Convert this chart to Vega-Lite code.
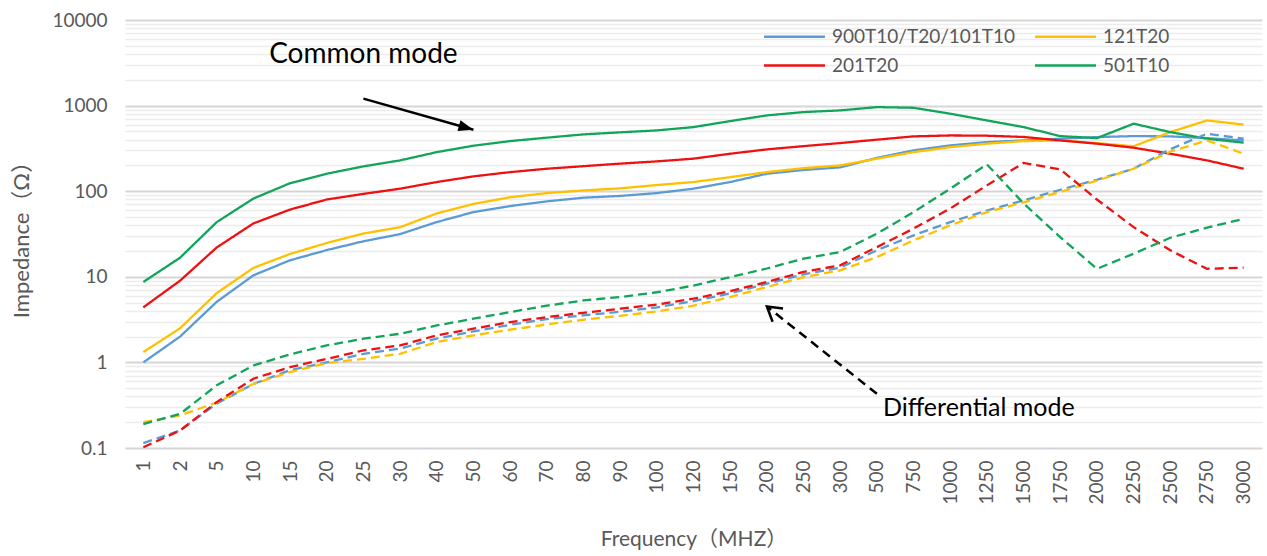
{
  "$schema": "https://vega.github.io/schema/vega-lite/v6.json",
  "autosize": "none",
  "width": 1137,
  "height": 428,
  "padding": {"left": 125, "top": 20, "right": 5, "bottom": 108},
  "background": "white",
  "config": {"view": {"stroke": null}, "font": "Lato, 'Noto Sans CJK SC'"},
  "datasets": {
    "imp": [
      {"freq":1,"series":"900T10/T20/101T10","mode":"Common mode","z":1.0},
      {"freq":2,"series":"900T10/T20/101T10","mode":"Common mode","z":2.0},
      {"freq":5,"series":"900T10/T20/101T10","mode":"Common mode","z":5.1},
      {"freq":10,"series":"900T10/T20/101T10","mode":"Common mode","z":10.4},
      {"freq":15,"series":"900T10/T20/101T10","mode":"Common mode","z":15.6},
      {"freq":20,"series":"900T10/T20/101T10","mode":"Common mode","z":20.5},
      {"freq":25,"series":"900T10/T20/101T10","mode":"Common mode","z":26},
      {"freq":30,"series":"900T10/T20/101T10","mode":"Common mode","z":31.5},
      {"freq":40,"series":"900T10/T20/101T10","mode":"Common mode","z":43.6},
      {"freq":50,"series":"900T10/T20/101T10","mode":"Common mode","z":57},
      {"freq":60,"series":"900T10/T20/101T10","mode":"Common mode","z":67},
      {"freq":70,"series":"900T10/T20/101T10","mode":"Common mode","z":76},
      {"freq":80,"series":"900T10/T20/101T10","mode":"Common mode","z":84},
      {"freq":90,"series":"900T10/T20/101T10","mode":"Common mode","z":88},
      {"freq":100,"series":"900T10/T20/101T10","mode":"Common mode","z":95},
      {"freq":120,"series":"900T10/T20/101T10","mode":"Common mode","z":107},
      {"freq":150,"series":"900T10/T20/101T10","mode":"Common mode","z":128},
      {"freq":200,"series":"900T10/T20/101T10","mode":"Common mode","z":160},
      {"freq":250,"series":"900T10/T20/101T10","mode":"Common mode","z":177},
      {"freq":300,"series":"900T10/T20/101T10","mode":"Common mode","z":190},
      {"freq":500,"series":"900T10/T20/101T10","mode":"Common mode","z":245},
      {"freq":750,"series":"900T10/T20/101T10","mode":"Common mode","z":300},
      {"freq":1000,"series":"900T10/T20/101T10","mode":"Common mode","z":343},
      {"freq":1250,"series":"900T10/T20/101T10","mode":"Common mode","z":375},
      {"freq":1500,"series":"900T10/T20/101T10","mode":"Common mode","z":392},
      {"freq":1750,"series":"900T10/T20/101T10","mode":"Common mode","z":410},
      {"freq":2000,"series":"900T10/T20/101T10","mode":"Common mode","z":429},
      {"freq":2250,"series":"900T10/T20/101T10","mode":"Common mode","z":440},
      {"freq":2500,"series":"900T10/T20/101T10","mode":"Common mode","z":437},
      {"freq":2750,"series":"900T10/T20/101T10","mode":"Common mode","z":417},
      {"freq":3000,"series":"900T10/T20/101T10","mode":"Common mode","z":392},

      {"freq":1,"series":"121T20","mode":"Common mode","z":1.32},
      {"freq":2,"series":"121T20","mode":"Common mode","z":2.5},
      {"freq":5,"series":"121T20","mode":"Common mode","z":6.45},
      {"freq":10,"series":"121T20","mode":"Common mode","z":12.7},
      {"freq":15,"series":"121T20","mode":"Common mode","z":18.5},
      {"freq":20,"series":"121T20","mode":"Common mode","z":24.8},
      {"freq":25,"series":"121T20","mode":"Common mode","z":32},
      {"freq":30,"series":"121T20","mode":"Common mode","z":38},
      {"freq":40,"series":"121T20","mode":"Common mode","z":55},
      {"freq":50,"series":"121T20","mode":"Common mode","z":71},
      {"freq":60,"series":"121T20","mode":"Common mode","z":85},
      {"freq":70,"series":"121T20","mode":"Common mode","z":95},
      {"freq":80,"series":"121T20","mode":"Common mode","z":102},
      {"freq":90,"series":"121T20","mode":"Common mode","z":108},
      {"freq":100,"series":"121T20","mode":"Common mode","z":118},
      {"freq":120,"series":"121T20","mode":"Common mode","z":128},
      {"freq":150,"series":"121T20","mode":"Common mode","z":146},
      {"freq":200,"series":"121T20","mode":"Common mode","z":167},
      {"freq":250,"series":"121T20","mode":"Common mode","z":186},
      {"freq":300,"series":"121T20","mode":"Common mode","z":200},
      {"freq":500,"series":"121T20","mode":"Common mode","z":240},
      {"freq":750,"series":"121T20","mode":"Common mode","z":286},
      {"freq":1000,"series":"121T20","mode":"Common mode","z":327},
      {"freq":1250,"series":"121T20","mode":"Common mode","z":359},
      {"freq":1500,"series":"121T20","mode":"Common mode","z":385},
      {"freq":1750,"series":"121T20","mode":"Common mode","z":392},
      {"freq":2000,"series":"121T20","mode":"Common mode","z":365},
      {"freq":2250,"series":"121T20","mode":"Common mode","z":335},
      {"freq":2500,"series":"121T20","mode":"Common mode","z":490},
      {"freq":2750,"series":"121T20","mode":"Common mode","z":671},
      {"freq":3000,"series":"121T20","mode":"Common mode","z":600},

      {"freq":1,"series":"201T20","mode":"Common mode","z":4.4},
      {"freq":2,"series":"201T20","mode":"Common mode","z":9.0},
      {"freq":5,"series":"201T20","mode":"Common mode","z":22},
      {"freq":10,"series":"201T20","mode":"Common mode","z":42},
      {"freq":15,"series":"201T20","mode":"Common mode","z":61},
      {"freq":20,"series":"201T20","mode":"Common mode","z":80},
      {"freq":25,"series":"201T20","mode":"Common mode","z":93},
      {"freq":30,"series":"201T20","mode":"Common mode","z":107},
      {"freq":40,"series":"201T20","mode":"Common mode","z":128},
      {"freq":50,"series":"201T20","mode":"Common mode","z":149},
      {"freq":60,"series":"201T20","mode":"Common mode","z":167},
      {"freq":70,"series":"201T20","mode":"Common mode","z":183},
      {"freq":80,"series":"201T20","mode":"Common mode","z":196},
      {"freq":90,"series":"201T20","mode":"Common mode","z":210},
      {"freq":100,"series":"201T20","mode":"Common mode","z":223},
      {"freq":120,"series":"201T20","mode":"Common mode","z":240},
      {"freq":150,"series":"201T20","mode":"Common mode","z":274},
      {"freq":200,"series":"201T20","mode":"Common mode","z":308},
      {"freq":250,"series":"201T20","mode":"Common mode","z":336},
      {"freq":300,"series":"201T20","mode":"Common mode","z":365},
      {"freq":500,"series":"201T20","mode":"Common mode","z":400},
      {"freq":750,"series":"201T20","mode":"Common mode","z":437},
      {"freq":1000,"series":"201T20","mode":"Common mode","z":448},
      {"freq":1250,"series":"201T20","mode":"Common mode","z":445},
      {"freq":1500,"series":"201T20","mode":"Common mode","z":430},
      {"freq":1750,"series":"201T20","mode":"Common mode","z":392},
      {"freq":2000,"series":"201T20","mode":"Common mode","z":359},
      {"freq":2250,"series":"201T20","mode":"Common mode","z":322},
      {"freq":2500,"series":"201T20","mode":"Common mode","z":274},
      {"freq":2750,"series":"201T20","mode":"Common mode","z":229},
      {"freq":3000,"series":"201T20","mode":"Common mode","z":183},

      {"freq":1,"series":"501T10","mode":"Common mode","z":8.7},
      {"freq":2,"series":"501T10","mode":"Common mode","z":16.7},
      {"freq":5,"series":"501T10","mode":"Common mode","z":43.5},
      {"freq":10,"series":"501T10","mode":"Common mode","z":82},
      {"freq":15,"series":"501T10","mode":"Common mode","z":124},
      {"freq":20,"series":"501T10","mode":"Common mode","z":160},
      {"freq":25,"series":"501T10","mode":"Common mode","z":195},
      {"freq":30,"series":"501T10","mode":"Common mode","z":229},
      {"freq":40,"series":"501T10","mode":"Common mode","z":286},
      {"freq":50,"series":"501T10","mode":"Common mode","z":340},
      {"freq":60,"series":"501T10","mode":"Common mode","z":385},
      {"freq":70,"series":"501T10","mode":"Common mode","z":422},
      {"freq":80,"series":"501T10","mode":"Common mode","z":461},
      {"freq":90,"series":"501T10","mode":"Common mode","z":487},
      {"freq":100,"series":"501T10","mode":"Common mode","z":513},
      {"freq":120,"series":"501T10","mode":"Common mode","z":561},
      {"freq":150,"series":"501T10","mode":"Common mode","z":659},
      {"freq":200,"series":"501T10","mode":"Common mode","z":768},
      {"freq":250,"series":"501T10","mode":"Common mode","z":840},
      {"freq":300,"series":"501T10","mode":"Common mode","z":879},
      {"freq":500,"series":"501T10","mode":"Common mode","z":960},
      {"freq":750,"series":"501T10","mode":"Common mode","z":943},
      {"freq":1000,"series":"501T10","mode":"Common mode","z":804},
      {"freq":1250,"series":"501T10","mode":"Common mode","z":671},
      {"freq":1500,"series":"501T10","mode":"Common mode","z":561},
      {"freq":1750,"series":"501T10","mode":"Common mode","z":440},
      {"freq":2000,"series":"501T10","mode":"Common mode","z":417},
      {"freq":2250,"series":"501T10","mode":"Common mode","z":615},
      {"freq":2500,"series":"501T10","mode":"Common mode","z":490},
      {"freq":2750,"series":"501T10","mode":"Common mode","z":410},
      {"freq":3000,"series":"501T10","mode":"Common mode","z":369},

      {"freq":1,"series":"900T10/T20/101T10","mode":"Differential mode","z":0.114},
      {"freq":2,"series":"900T10/T20/101T10","mode":"Differential mode","z":0.16},
      {"freq":5,"series":"900T10/T20/101T10","mode":"Differential mode","z":0.33},
      {"freq":10,"series":"900T10/T20/101T10","mode":"Differential mode","z":0.56},
      {"freq":15,"series":"900T10/T20/101T10","mode":"Differential mode","z":0.81},
      {"freq":20,"series":"900T10/T20/101T10","mode":"Differential mode","z":1.0},
      {"freq":25,"series":"900T10/T20/101T10","mode":"Differential mode","z":1.26},
      {"freq":30,"series":"900T10/T20/101T10","mode":"Differential mode","z":1.45},
      {"freq":40,"series":"900T10/T20/101T10","mode":"Differential mode","z":1.9},
      {"freq":50,"series":"900T10/T20/101T10","mode":"Differential mode","z":2.3},
      {"freq":60,"series":"900T10/T20/101T10","mode":"Differential mode","z":2.75},
      {"freq":70,"series":"900T10/T20/101T10","mode":"Differential mode","z":3.2},
      {"freq":80,"series":"900T10/T20/101T10","mode":"Differential mode","z":3.55},
      {"freq":90,"series":"900T10/T20/101T10","mode":"Differential mode","z":3.9},
      {"freq":100,"series":"900T10/T20/101T10","mode":"Differential mode","z":4.4},
      {"freq":120,"series":"900T10/T20/101T10","mode":"Differential mode","z":5.2},
      {"freq":150,"series":"900T10/T20/101T10","mode":"Differential mode","z":6.4},
      {"freq":200,"series":"900T10/T20/101T10","mode":"Differential mode","z":8.3},
      {"freq":250,"series":"900T10/T20/101T10","mode":"Differential mode","z":10.7},
      {"freq":300,"series":"900T10/T20/101T10","mode":"Differential mode","z":12.8},
      {"freq":500,"series":"900T10/T20/101T10","mode":"Differential mode","z":20.4},
      {"freq":750,"series":"900T10/T20/101T10","mode":"Differential mode","z":30.5},
      {"freq":1000,"series":"900T10/T20/101T10","mode":"Differential mode","z":43.6},
      {"freq":1250,"series":"900T10/T20/101T10","mode":"Differential mode","z":59.5},
      {"freq":1500,"series":"900T10/T20/101T10","mode":"Differential mode","z":78},
      {"freq":1750,"series":"900T10/T20/101T10","mode":"Differential mode","z":104},
      {"freq":2000,"series":"900T10/T20/101T10","mode":"Differential mode","z":136},
      {"freq":2250,"series":"900T10/T20/101T10","mode":"Differential mode","z":183},
      {"freq":2500,"series":"900T10/T20/101T10","mode":"Differential mode","z":310},
      {"freq":2750,"series":"900T10/T20/101T10","mode":"Differential mode","z":470},
      {"freq":3000,"series":"900T10/T20/101T10","mode":"Differential mode","z":410},

      {"freq":1,"series":"121T20","mode":"Differential mode","z":0.2},
      {"freq":2,"series":"121T20","mode":"Differential mode","z":0.24},
      {"freq":5,"series":"121T20","mode":"Differential mode","z":0.34},
      {"freq":10,"series":"121T20","mode":"Differential mode","z":0.56},
      {"freq":15,"series":"121T20","mode":"Differential mode","z":0.77},
      {"freq":20,"series":"121T20","mode":"Differential mode","z":0.98},
      {"freq":25,"series":"121T20","mode":"Differential mode","z":1.1},
      {"freq":30,"series":"121T20","mode":"Differential mode","z":1.26},
      {"freq":40,"series":"121T20","mode":"Differential mode","z":1.73},
      {"freq":50,"series":"121T20","mode":"Differential mode","z":2.07},
      {"freq":60,"series":"121T20","mode":"Differential mode","z":2.41},
      {"freq":70,"series":"121T20","mode":"Differential mode","z":2.78},
      {"freq":80,"series":"121T20","mode":"Differential mode","z":3.15},
      {"freq":90,"series":"121T20","mode":"Differential mode","z":3.5},
      {"freq":100,"series":"121T20","mode":"Differential mode","z":3.94},
      {"freq":120,"series":"121T20","mode":"Differential mode","z":4.6},
      {"freq":150,"series":"121T20","mode":"Differential mode","z":5.8},
      {"freq":200,"series":"121T20","mode":"Differential mode","z":7.6},
      {"freq":250,"series":"121T20","mode":"Differential mode","z":9.9},
      {"freq":300,"series":"121T20","mode":"Differential mode","z":11.9},
      {"freq":500,"series":"121T20","mode":"Differential mode","z":17},
      {"freq":750,"series":"121T20","mode":"Differential mode","z":26.6},
      {"freq":1000,"series":"121T20","mode":"Differential mode","z":40},
      {"freq":1250,"series":"121T20","mode":"Differential mode","z":57},
      {"freq":1500,"series":"121T20","mode":"Differential mode","z":74},
      {"freq":1750,"series":"121T20","mode":"Differential mode","z":98},
      {"freq":2000,"series":"121T20","mode":"Differential mode","z":133},
      {"freq":2250,"series":"121T20","mode":"Differential mode","z":183},
      {"freq":2500,"series":"121T20","mode":"Differential mode","z":290},
      {"freq":2750,"series":"121T20","mode":"Differential mode","z":392},
      {"freq":3000,"series":"121T20","mode":"Differential mode","z":274},

      {"freq":1,"series":"201T20","mode":"Differential mode","z":0.102},
      {"freq":2,"series":"201T20","mode":"Differential mode","z":0.16},
      {"freq":5,"series":"201T20","mode":"Differential mode","z":0.344},
      {"freq":10,"series":"201T20","mode":"Differential mode","z":0.645},
      {"freq":15,"series":"201T20","mode":"Differential mode","z":0.88},
      {"freq":20,"series":"201T20","mode":"Differential mode","z":1.1},
      {"freq":25,"series":"201T20","mode":"Differential mode","z":1.38},
      {"freq":30,"series":"201T20","mode":"Differential mode","z":1.58},
      {"freq":40,"series":"201T20","mode":"Differential mode","z":2.07},
      {"freq":50,"series":"201T20","mode":"Differential mode","z":2.48},
      {"freq":60,"series":"201T20","mode":"Differential mode","z":2.96},
      {"freq":70,"series":"201T20","mode":"Differential mode","z":3.38},
      {"freq":80,"series":"201T20","mode":"Differential mode","z":3.8},
      {"freq":90,"series":"201T20","mode":"Differential mode","z":4.24},
      {"freq":100,"series":"201T20","mode":"Differential mode","z":4.73},
      {"freq":120,"series":"201T20","mode":"Differential mode","z":5.55},
      {"freq":150,"series":"201T20","mode":"Differential mode","z":6.8},
      {"freq":200,"series":"201T20","mode":"Differential mode","z":8.7},
      {"freq":250,"series":"201T20","mode":"Differential mode","z":11.4},
      {"freq":300,"series":"201T20","mode":"Differential mode","z":13.6},
      {"freq":500,"series":"201T20","mode":"Differential mode","z":22.2},
      {"freq":750,"series":"201T20","mode":"Differential mode","z":36.6},
      {"freq":1000,"series":"201T20","mode":"Differential mode","z":62.8},
      {"freq":1250,"series":"201T20","mode":"Differential mode","z":117},
      {"freq":1500,"series":"201T20","mode":"Differential mode","z":214},
      {"freq":1750,"series":"201T20","mode":"Differential mode","z":180},
      {"freq":2000,"series":"201T20","mode":"Differential mode","z":80},
      {"freq":2250,"series":"201T20","mode":"Differential mode","z":38},
      {"freq":2500,"series":"201T20","mode":"Differential mode","z":20.4},
      {"freq":2750,"series":"201T20","mode":"Differential mode","z":12.4},
      {"freq":3000,"series":"201T20","mode":"Differential mode","z":12.8},

      {"freq":1,"series":"501T10","mode":"Differential mode","z":0.19},
      {"freq":2,"series":"501T10","mode":"Differential mode","z":0.25},
      {"freq":5,"series":"501T10","mode":"Differential mode","z":0.54},
      {"freq":10,"series":"501T10","mode":"Differential mode","z":0.92},
      {"freq":15,"series":"501T10","mode":"Differential mode","z":1.24},
      {"freq":20,"series":"501T10","mode":"Differential mode","z":1.58},
      {"freq":25,"series":"501T10","mode":"Differential mode","z":1.89},
      {"freq":30,"series":"501T10","mode":"Differential mode","z":2.16},
      {"freq":40,"series":"501T10","mode":"Differential mode","z":2.7},
      {"freq":50,"series":"501T10","mode":"Differential mode","z":3.24},
      {"freq":60,"series":"501T10","mode":"Differential mode","z":3.87},
      {"freq":70,"series":"501T10","mode":"Differential mode","z":4.6},
      {"freq":80,"series":"501T10","mode":"Differential mode","z":5.3},
      {"freq":90,"series":"501T10","mode":"Differential mode","z":5.8},
      {"freq":100,"series":"501T10","mode":"Differential mode","z":6.6},
      {"freq":120,"series":"501T10","mode":"Differential mode","z":7.9},
      {"freq":150,"series":"501T10","mode":"Differential mode","z":9.9},
      {"freq":200,"series":"501T10","mode":"Differential mode","z":12.5},
      {"freq":250,"series":"501T10","mode":"Differential mode","z":16.3},
      {"freq":300,"series":"501T10","mode":"Differential mode","z":19.5},
      {"freq":500,"series":"501T10","mode":"Differential mode","z":31.9},
      {"freq":750,"series":"501T10","mode":"Differential mode","z":57},
      {"freq":1000,"series":"501T10","mode":"Differential mode","z":107},
      {"freq":1250,"series":"501T10","mode":"Differential mode","z":206},
      {"freq":1500,"series":"501T10","mode":"Differential mode","z":72},
      {"freq":1750,"series":"501T10","mode":"Differential mode","z":29},
      {"freq":2000,"series":"501T10","mode":"Differential mode","z":12.4},
      {"freq":2250,"series":"501T10","mode":"Differential mode","z":18.6},
      {"freq":2500,"series":"501T10","mode":"Differential mode","z":28.6},
      {"freq":2750,"series":"501T10","mode":"Differential mode","z":37.5},
      {"freq":3000,"series":"501T10","mode":"Differential mode","z":47.5}
    ]
  },
  "layer": [
    {
      "data": {"name": "imp"},
      "mark": {"type": "line", "strokeWidth": 2.3},
      "encoding": {
        "x": {
          "field": "freq", "type": "ordinal",
          "scale": {"type": "point", "padding": 0.5},
          "axis": {
            "title": "Frequency（MHZ）",
            "titleFontSize": 21, "titleFontWeight": "normal", "titleColor": "#595959",
            "titleFont": "Lato, 'Noto Sans CJK SC'", "titlePadding": 24,
            "labelAngle": -90, "labelFontSize": 19, "labelColor": "#595959", "labelFont": "Lato",
            "labelPadding": 12, "ticks": false, "domain": false, "grid": false, "labelOverlap": false
          }
        },
        "y": {
          "field": "z", "type": "quantitative",
          "scale": {"type": "log", "domain": [0.1, 10000], "nice": false},
          "axis": {
            "title": "Impedance（Ω）",
            "titleFontSize": 22, "titleFontWeight": "normal", "titleColor": "#595959",
            "titleFont": "Lato, 'Noto Sans CJK SC'", "titlePadding": 18,
            "labelFontSize": 19, "labelColor": "#595959", "labelFont": "Lato", "labelPadding": 18,
            "ticks": false, "domain": false, "labelOverlap": false,
            "values": [0.1,0.2,0.3,0.4,0.5,0.6,0.7,0.8,0.9,1,2,3,4,5,6,7,8,9,10,20,30,40,50,60,70,80,90,100,200,300,400,500,600,700,800,900,1000,2000,3000,4000,5000,6000,7000,8000,9000,10000],
            "labelExpr": "abs(log(datum.value)/LN10 - round(log(datum.value)/LN10)) < 0.001 ? (datum.value < 1 ? '0.1' : format(datum.value, 'd')) : ''",
            "gridColor": {"condition": {"test": "abs(log(datum.value)/LN10 - round(log(datum.value)/LN10)) < 0.001", "value": "#D6D6D6"}, "value": "#ECECEC"},
            "gridWidth": {"condition": {"test": "abs(log(datum.value)/LN10 - round(log(datum.value)/LN10)) < 0.001", "value": 2}, "value": 1.5}
          }
        },
        "color": {
          "field": "series", "type": "nominal",
          "scale": {
            "domain": ["900T10/T20/101T10", "201T20", "121T20", "501T10"],
            "range": ["#5B9BD5", "#EE1111", "#FFC000", "#12A55A"]
          },
          "legend": {
            "title": null, "orient": "none", "legendX": 660, "legendY": 7,
            "columns": 2, "symbolType": "M-4,0 L4,0", "symbolSize": 232, "symbolStrokeWidth": 2.5,
            "labelFontSize": 19, "labelColor": "#595959", "labelFont": "Lato", "labelLimit": 0,
            "rowPadding": 9, "columnPadding": 14, "labelOffset": 28, "padding": 0
          }
        },
        "strokeDash": {
          "field": "mode", "type": "nominal",
          "scale": {"domain": ["Common mode", "Differential mode"], "range": [[1, 0], [9, 5]]},
          "legend": null
        }
      }
    },
    {
      "data": {"values": [{"freq": 25, "z": 3900, "label": "Common mode"}]},
      "mark": {"type": "text", "fontSize": 28, "font": "Lato", "color": "black", "align": "center", "baseline": "middle"},
      "encoding": {
        "x": {"field": "freq", "type": "ordinal"},
        "y": {"field": "z", "type": "quantitative"},
        "text": {"field": "label"}
      }
    },
    {
      "data": {"values": [{"freq": 500, "z": 0.29, "label": "Differential mode"}]},
      "mark": {"type": "text", "fontSize": 25, "font": "Lato", "color": "black", "align": "left", "baseline": "middle", "dx": 6},
      "encoding": {
        "x": {"field": "freq", "type": "ordinal"},
        "y": {"field": "z", "type": "quantitative"},
        "text": {"field": "label"}
      }
    },
    {
      "data": {"values": [{"freq": 25, "z": 1205, "freq2": 50, "z2": 523}]},
      "mark": {"type": "rule", "color": "black", "strokeWidth": 2.5},
      "encoding": {
        "x": {"field": "freq", "type": "ordinal"},
        "x2": {"field": "freq2"},
        "y": {"field": "z", "type": "quantitative"},
        "y2": {"field": "z2"}
      }
    },
    {
      "data": {"values": [{"freq": 50, "z": 523}]},
      "mark": {"type": "point", "shape": "M0,0 L-2,-0.75 L-2,0.75 Z", "filled": true, "color": "black", "opacity": 1, "size": 225, "angle": 15.7},
      "encoding": {
        "x": {"field": "freq", "type": "ordinal"},
        "y": {"field": "z", "type": "quantitative"}
      }
    },
    {
      "data": {"values": [{"freq": 500, "z": 0.43, "freq2": 200, "z2": 4.5}]},
      "mark": {"type": "rule", "color": "black", "strokeWidth": 2.5, "strokeDash": [9, 6]},
      "encoding": {
        "x": {"field": "freq", "type": "ordinal"},
        "x2": {"field": "freq2"},
        "y": {"field": "z", "type": "quantitative"},
        "y2": {"field": "z2"}
      }
    },
    {
      "data": {"values": [{"freq": 200, "z": 4.5}]},
      "mark": {"type": "point", "shape": "M-2,-1.2 L0,0 L-2,1.2", "filled": false, "stroke": "black", "strokeWidth": 2.5, "opacity": 1, "size": 196, "angle": 218.4},
      "encoding": {
        "x": {"field": "freq", "type": "ordinal"},
        "y": {"field": "z", "type": "quantitative"}
      }
    }
  ]
}
